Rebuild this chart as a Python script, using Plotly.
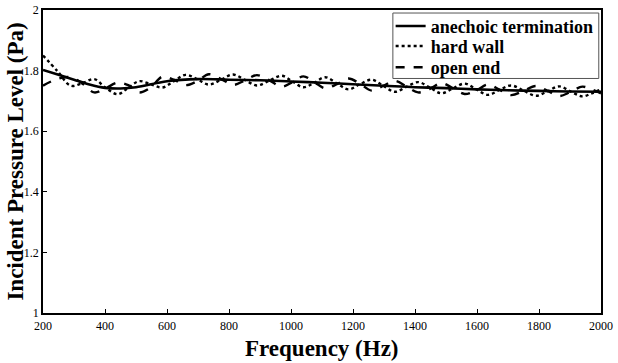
import plotly.graph_objects as go

# Anechoic termination (smooth baseline)
anechoic_freq = [200, 250, 300, 350, 400, 450, 500, 600, 700, 800, 900, 1000,
                 1100, 1200, 1300, 1400, 1500, 1600, 1700, 1800, 1900, 2000]
anechoic_val = [1.802, 1.786, 1.770, 1.754, 1.743, 1.741, 1.745, 1.765, 1.772, 1.770,
                1.768, 1.764, 1.760, 1.755, 1.750, 1.745, 1.742, 1.738, 1.735, 1.733,
                1.731, 1.730]

# Hard wall / open end (oscillating)
osc_freq = [200, 245, 290, 330, 365, 400, 440, 475, 510, 548, 585, 622, 660, 697, 735,
            775, 813, 850, 890, 930, 970, 1005, 1040, 1075, 1110, 1148, 1185, 1222,
            1260, 1298, 1335, 1372, 1410, 1448, 1485, 1522, 1560, 1598, 1635, 1672,
            1710, 1750, 1790, 1828, 1865, 1902, 1940, 1970, 2000]
hard_wall_val = [1.850, 1.800, 1.750, 1.760, 1.772, 1.745, 1.722, 1.743, 1.765, 1.755,
                 1.744, 1.765, 1.786, 1.772, 1.754, 1.770, 1.787, 1.770, 1.751, 1.767,
                 1.783, 1.764, 1.745, 1.760, 1.778, 1.758, 1.738, 1.755, 1.770, 1.750,
                 1.730, 1.746, 1.762, 1.744, 1.725, 1.741, 1.757, 1.738, 1.720, 1.736,
                 1.751, 1.734, 1.717, 1.732, 1.748, 1.731, 1.715, 1.725, 1.738]
open_end_val = [1.750, 1.772, 1.778, 1.755, 1.728, 1.740, 1.760, 1.752, 1.728, 1.745,
                1.780, 1.770, 1.752, 1.765, 1.788, 1.772, 1.753, 1.767, 1.785, 1.768,
                1.747, 1.762, 1.781, 1.762, 1.742, 1.755, 1.774, 1.757, 1.734, 1.750,
                1.766, 1.748, 1.728, 1.740, 1.759, 1.742, 1.723, 1.735, 1.754, 1.737,
                1.719, 1.733, 1.749, 1.733, 1.716, 1.730, 1.747, 1.738, 1.725]

x_ticks = [200, 400, 600, 800, 1000, 1200, 1400, 1600, 1800, 2000]
y_ticks = [1, 1.2, 1.4, 1.6, 1.8, 2]
y_ticktext = ["1", "1.2", "1.4", "1.6", "1.8", "2"]

FONT = "Liberation Serif"

fig = go.Figure()
fig.add_trace(go.Scatter(x=anechoic_freq, y=anechoic_val, mode="lines",
                         name="<b>anechoic termination</b>", legend="legend",
                         line=dict(color="black", width=2.6, shape="spline")))
fig.add_trace(go.Scatter(x=osc_freq, y=hard_wall_val, mode="lines",
                         name="<b>hard wall</b>", legend="legend2",
                         line=dict(color="black", width=2.4, dash="dot", shape="spline")))
fig.add_trace(go.Scatter(x=osc_freq, y=open_end_val, mode="lines",
                         name="<b>open end</b>", legend="legend3",
                         line=dict(color="black", width=2.4, dash="dash", shape="spline")))

leg_common = dict(x=0.623, xanchor="left", yanchor="middle",
                  bgcolor="rgba(0,0,0,0)", borderwidth=0,
                  font=dict(family=FONT, size=18, color="black"), itemwidth=30)

fig.update_layout(
    width=618, height=363,
    margin=dict(l=43, r=17, t=8, b=50),
    paper_bgcolor="white", plot_bgcolor="white",
    font=dict(family=FONT, color="black"),
    showlegend=True,
    legend=dict(y=0.946, **leg_common),
    legend2=dict(y=0.880, **leg_common),
    legend3=dict(y=0.810, **leg_common),
    shapes=[dict(type="rect", xref="paper", yref="paper", x0=0.627, x1=0.996,
                 y0=0.774, y1=0.990, line=dict(color="#555", width=1),
                 fillcolor="white", layer="above")],
    annotations=[
        dict(text="<b>Frequency (Hz)</b>", xref="paper", yref="paper", x=0.5,
             y=-0.118, xanchor="center", yanchor="middle", showarrow=False,
             font=dict(family=FONT, size=23, color="black")),
        dict(text="<b>Incident Pressure Level (Pa)</b>", xref="paper", yref="paper",
             x=-0.050, y=0.5, xanchor="center", yanchor="middle", textangle=-90,
             showarrow=False, font=dict(family=FONT, size=23, color="black")),
    ],
    xaxis=dict(range=[200, 2000], tickvals=x_ticks, ticks="inside", ticklen=4,
               tickcolor="black", showline=True, linecolor="black", linewidth=1.5,
               mirror=True, showgrid=False, zeroline=False, automargin=False,
               ticklabelstandoff=1,
               tickfont=dict(family=FONT, size=12, color="black")),
    yaxis=dict(range=[1, 2], tickvals=y_ticks, ticktext=y_ticktext, ticks="inside",
               ticklen=4, tickcolor="black", showline=True, linecolor="black",
               linewidth=1.5, mirror=True, showgrid=False, zeroline=False,
               automargin=False,
               tickfont=dict(family=FONT, size=12, color="black")),
)
fig.update_xaxes(tickprefix="<b>", ticksuffix="</b>")
fig.update_yaxes(tickprefix="<b>", ticksuffix="</b>")

fig.write_html("out.html", config={"displayModeBar": False},
               post_script="document.body.style.margin='0px';")
